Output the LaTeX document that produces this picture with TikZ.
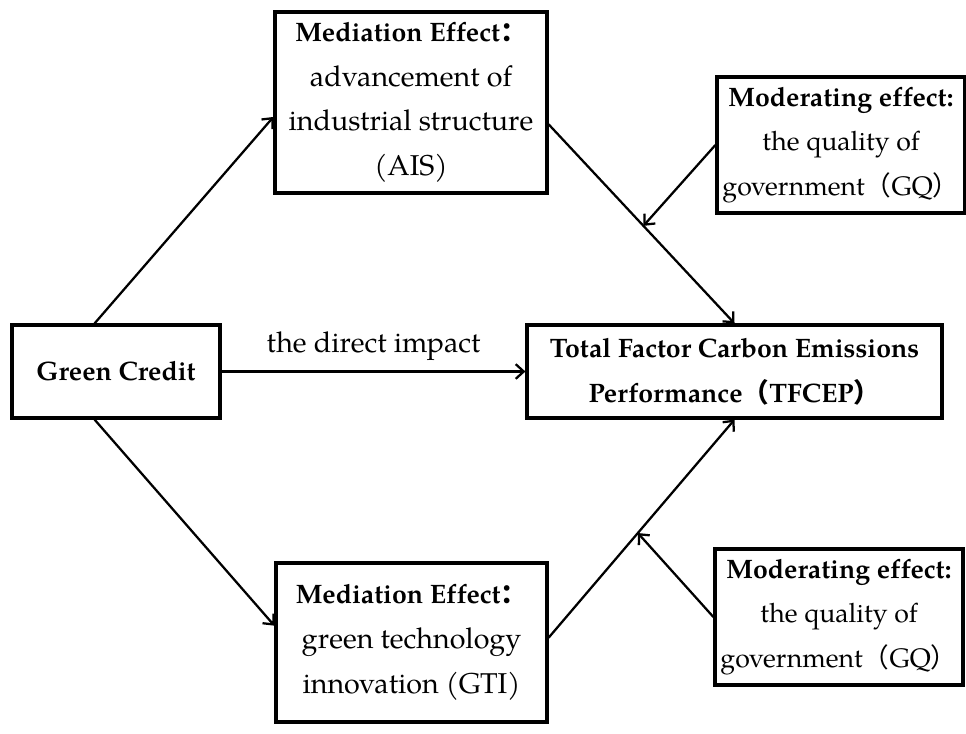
\documentclass[tikz,border=0pt]{standalone}
\usepackage{fontspec}
\setmainfont{texgyrepagella}[Extension=.otf,UprightFont=*-regular,BoldFont=*-bold,ItalicFont=*-italic,BoldItalicFont=*-bolditalic,Ligatures=NoCommon]
\newfontfamily\cjk{Noto Sans CJK SC}
\usepackage{tikz}
\usetikzlibrary{calc,arrows.meta}
\newcommand{\hd}[1]{{\fontsize{20}{33.5}\selectfont\bfseries #1}}

\begin{document}
\begin{tikzpicture}[x=0.75pt,y=-0.75pt,
    box/.style={draw,line width=2.4pt,align=center,inner sep=0pt,font=\fontsize{21.5}{33.5}\selectfont},
    modbox/.style={box,minimum width=186pt,minimum height=102pt,font=\fontsize{20}{33.5}\selectfont},
    link/.style={-{Straight Barb[length=6pt,width=11pt]},line width=1.7pt}]
    \useasboundingbox (0,0) rectangle (966,733);
    \node[box,minimum width=204pt,minimum height=135.75pt] (ais) at (411,102.5) {\hd{Mediation Effect{\cjk ：}}\\advancement of\\industrial structure\\(AIS)};
    \node[modbox] (gqa) at (841,145) {\hd{Moderating effect:}\\the quality of\\government{\cjk （}GQ{\cjk ）}};
    \node[box,minimum width=156pt,minimum height=69.75pt] (gc) at (116,371.5) {\hd{Green Credit}};
    \node[box,minimum width=311.25pt,minimum height=69.75pt] (tfcep) at (734.5,371.5) {\hd{Total Factor Carbon Emissions}\\\hd{Performance{\cjk （}TFCEP{\cjk ）}}};
    \node[box,minimum width=203.25pt,minimum height=119.25pt] (gti) at (411.5,642.5) {\hd{Mediation Effect{\cjk ：}}\\green technology\\innovation (GTI)};
    \node[modbox] (gqb) at (839,617) {\hd{Moderating effect:}\\the quality of\\government{\cjk （}GQ{\cjk ）}};
    \draw[link] (gc.114) -- (ais.186);
    \draw[link] (gc.246) -- (gti.173);
    \draw[link] (gc.east) -- (tfcep.west) node[midway,above=4pt,font=\fontsize{21.5}{24}\selectfont] {the direct impact};
    \draw[link] (ais.351) -- (tfcep.north);
    \draw[link] (gti.2) -- (tfcep.south);
    \coordinate (ma) at ($(ais.351)!0.51!(tfcep.north)$);
    \coordinate (mb) at ($(gti.2)!0.48!(tfcep.south)$);
    \draw[link] (gqa.west) -- (ma);
    \draw[link] (gqb.west) -- (mb);
\end{tikzpicture}
\end{document}
